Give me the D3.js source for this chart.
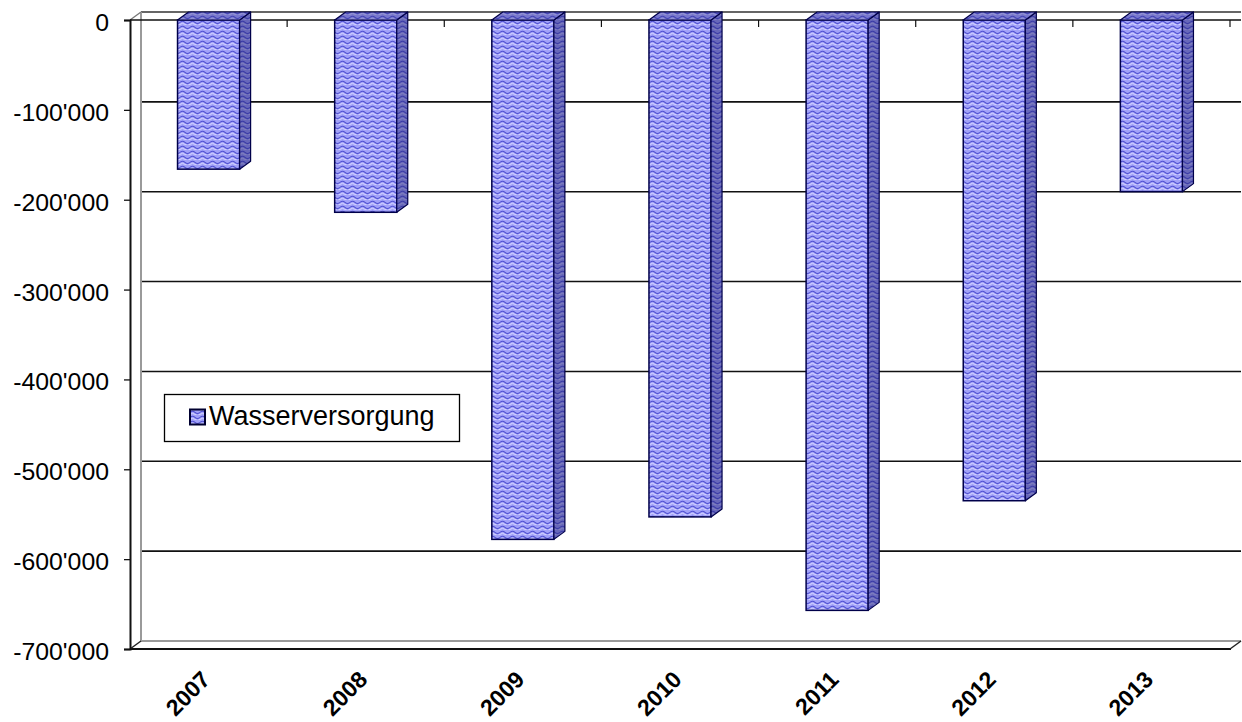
<!DOCTYPE html>
<html>
<head>
<meta charset="utf-8">
<script src="https://cdn.jsdelivr.net/npm/d3@7"></script>
<style>
  html, body { margin: 0; padding: 0; background: #fff; }
  svg { display: block; font-family: "Liberation Sans", Arial, sans-serif; }
</style>
</head>
<body>
<svg id="chart" width="1242" height="722"></svg>
<script>
// Annual result of the water supply (values in CHF)
const years = ["2007", "2008", "2009", "2010", "2011", "2012", "2013"];
const values = [-166000, -214000, -578000, -553000, -657000, -535000, -191000];
const tickValues = [0, -100000, -200000, -300000, -400000, -500000, -600000, -700000];
const tickLabels = ["0", "-100'000", "-200'000", "-300'000", "-400'000", "-500'000", "-600'000", "-700'000"];
const seriesName = "Wasserversorgung";

const svg = d3.select("#chart");

// front plane of the 3D box and the depth offset of the back wall
const front = { left: 130, right: 1230, top: 20, bottom: 649 };
const depth = { dx: 11, dy: -8 };

const x = d3.scaleBand()
  .domain(years)
  .range([front.left, front.right])
  .paddingInner(0.605)
  .paddingOuter(0.3025);

const y = d3.scaleLinear()
  .domain([0, -700000])
  .range([front.top, front.bottom]);

// ---- wavy fill pattern of the columns
const defs = svg.append("defs");
const pat = defs.append("pattern")
  .attr("id", "wave")
  .attr("patternUnits", "userSpaceOnUse")
  .attr("width", 10).attr("height", 5);
pat.append("rect").attr("width", 10).attr("height", 5).attr("fill", "#a2a2f8");
pat.append("path")
  .attr("d", "M0,2.4 Q2.5,0.2 5,2.4 T10,2.4")
  .attr("fill", "none").attr("stroke", "#5050d2").attr("stroke-width", 1.1);
pat.append("path")
  .attr("d", "M0,4.4 Q2.5,2.2 5,4.4 T10,4.4")
  .attr("fill", "none").attr("stroke", "#dcdcff").attr("stroke-width", 0.9);

// ---- walls and floor
const walls = svg.append("g");
const backL = front.left + depth.dx, backR = front.right + depth.dx;

// gridlines on the back wall
walls.selectAll("line.grid")
  .data(tickValues.slice(1, -1))
  .join("line")
  .attr("class", "grid")
  .attr("x1", backL).attr("x2", backR)
  .attr("y1", d => y(d) + depth.dy).attr("y2", d => y(d) + depth.dy)
  .attr("stroke", "#111").attr("stroke-width", 1.6);

// back wall top edge
walls.append("line")
  .attr("x1", backL).attr("x2", backR)
  .attr("y1", y(0) + depth.dy).attr("y2", y(0) + depth.dy)
  .attr("stroke", "#333").attr("stroke-width", 1.5);

// back wall left edge (grey)
walls.append("line")
  .attr("x1", backL).attr("x2", backL)
  .attr("y1", y(0) + depth.dy).attr("y2", y(-700000) + depth.dy)
  .attr("stroke", "#9a9a9a").attr("stroke-width", 2);

// floor: back edge, front edge and the two side diagonals
walls.append("line")
  .attr("x1", backL).attr("x2", backR)
  .attr("y1", y(-700000) + depth.dy).attr("y2", y(-700000) + depth.dy)
  .attr("stroke", "#9a9a9a").attr("stroke-width", 2);
walls.append("line")
  .attr("x1", front.left).attr("x2", front.right + 1)
  .attr("y1", y(-700000)).attr("y2", y(-700000))
  .attr("stroke", "#111").attr("stroke-width", 2.2);
[front.left, front.right].forEach(fx => {
  walls.append("line")
    .attr("x1", fx).attr("y1", y(-700000))
    .attr("x2", fx + depth.dx).attr("y2", y(-700000) + depth.dy)
    .attr("stroke", "#222").attr("stroke-width", 1.5);
});
// top-left diagonal
walls.append("line")
  .attr("x1", front.left).attr("y1", y(0))
  .attr("x2", backL).attr("y2", y(0) + depth.dy)
  .attr("stroke", "#777").attr("stroke-width", 1.3);

// ---- category axis at zero with ticks between the categories
const catAxis = svg.append("g");
catAxis.append("line")
  .attr("x1", front.left).attr("x2", backR)
  .attr("y1", y(0)).attr("y2", y(0))
  .attr("stroke", "#111").attr("stroke-width", 1.6);
catAxis.selectAll("line.tick")
  .data(years)
  .join("line")
  .attr("class", "tick")
  .attr("x1", d => x(d) - x.step() * x.paddingOuter() + x.step())
  .attr("x2", d => x(d) - x.step() * x.paddingOuter() + x.step())
  .attr("y1", y(0)).attr("y2", y(0) + 7)
  .attr("stroke", "#111").attr("stroke-width", 1.2);

// ---- value axis
const yAxis = d3.axisLeft(y)
  .tickValues(tickValues)
  .tickSize(6)
  .tickFormat(() => "");
const yg = svg.append("g")
  .attr("transform", `translate(${front.left},0)`)
  .call(yAxis);
yg.select(".domain").attr("stroke", "#111").attr("stroke-width", 2);
yg.selectAll(".tick line").attr("stroke", "#111").attr("stroke-width", 1.3);

svg.append("g").selectAll("g")
  .data(tickValues)
  .join("g")
  .attr("transform", d => `translate(109,${y(d) + 11})`)
  .append("text")
  .attr("text-anchor", "end")
  .attr("transform", "scale(1.08,1)")
  .attr("font-size", 23)
  .attr("fill", "#000")
  .text((d, i) => tickLabels[i]);

// ---- columns
const bars = svg.append("g").selectAll("g")
  .data(years.map((yr, i) => ({ yr, v: values[i] })))
  .join("g");

const outline = "#00004a";
bars.each(function (d) {
  const g = d3.select(this);
  const x0 = x(d.yr), x1 = x0 + x.bandwidth();
  const yt = y(0), yb = y(d.v);
  const dx = depth.dx, dy = depth.dy;
  // front face
  g.append("rect")
    .attr("x", x0).attr("y", yt)
    .attr("width", x1 - x0).attr("height", yb - yt)
    .attr("fill", "url(#wave)")
    .attr("stroke", outline).attr("stroke-width", 1.5);
  // side face
  const side = [[x1, yt], [x1 + dx, yt + dy], [x1 + dx, yb + dy], [x1, yb]];
  g.append("polygon").attr("points", side.join(" ")).attr("fill", "url(#wave)");
  g.append("polygon").attr("points", side.join(" "))
    .attr("fill", "rgba(30,30,110,0.45)")
    .attr("stroke", outline).attr("stroke-width", 1.2).attr("stroke-linejoin", "round");
  // top face
  const top = [[x0, yt], [x0 + dx, yt + dy], [x1 + dx, yt + dy], [x1, yt]];
  g.append("polygon").attr("points", top.join(" ")).attr("fill", "url(#wave)");
  g.append("polygon").attr("points", top.join(" "))
    .attr("fill", "rgba(40,40,130,0.35)")
    .attr("stroke", outline).attr("stroke-width", 1.2).attr("stroke-linejoin", "round");
});

// ---- x labels, rotated
svg.append("g").selectAll("text")
  .data(years)
  .join("text")
  .attr("transform", d => `translate(${x(d) + x.bandwidth() / 2 + 3},681) rotate(-45)`)
  .attr("text-anchor", "end")
  .attr("font-size", 23)
  .attr("font-weight", "bold")
  .attr("fill", "#000")
  .text(d => d);

// ---- legend
const lg = svg.append("g");
lg.append("rect")
  .attr("x", 164.5).attr("y", 394.5)
  .attr("width", 295).attr("height", 47)
  .attr("fill", "#fff").attr("stroke", "#000").attr("stroke-width", 1.3);
lg.append("rect")
  .attr("x", 190).attr("y", 409.5)
  .attr("width", 15).attr("height", 15)
  .attr("fill", "url(#wave)")
  .attr("stroke", "#000030").attr("stroke-width", 2);
lg.append("text")
  .attr("x", 209).attr("y", 425)
  .attr("font-size", 27)
  .attr("fill", "#000")
  .text(seriesName);
</script>
</body>
</html>
